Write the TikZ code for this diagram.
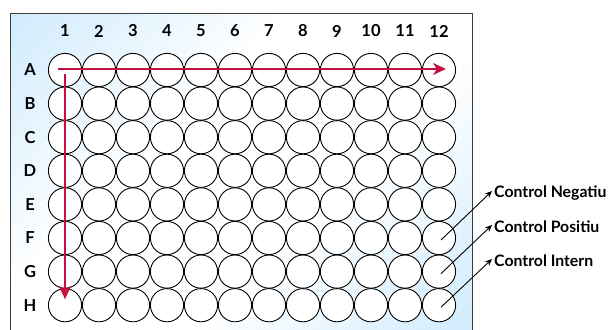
\documentclass[tikz,border=0pt]{standalone}
\usepackage{fontspec}
\setmainfont{Lato}
\usetikzlibrary{arrows.meta}
\definecolor{plateblue}{RGB}{203,233,253}
\definecolor{arrowred}{RGB}{200,16,62}
\definecolor{plateedge}{RGB}{60,60,60}
\pgfdeclarehorizontalshading{platefill}{100bp}{%
  color(0bp)=(plateblue); color(12bp)=(plateblue); color(40bp)=(white);
  color(60bp)=(white); color(88bp)=(plateblue); color(100bp)=(plateblue)}
\tikzset{
  well/.style={circle, draw=black, line width=0.9pt, fill=white, minimum size=33.2pt, inner sep=0pt},
  hdr/.style={font=\bfseries\fontsize{16.5}{16.5}\selectfont, inner sep=0pt},
  ctl/.style={font=\bfseries\fontsize{15.8}{16}\selectfont, anchor=west, inner sep=1pt},
  redarrow/.style={draw=arrowred, line width=2pt, -{Stealth[length=13pt,width=12pt,inset=4pt]}},
  ctlarrow/.style={draw=black, line width=0.9pt, -{Stealth[length=7pt,width=6pt]}}
}
\begin{document}
\begin{tikzpicture}[x=1pt,y=-1pt]
\useasboundingbox (0,0) rectangle (615,329);
\begin{scope}
\clip (0,0) rectangle (615,329);
\shade[shading=platefill, shading angle=-45] (10,14) rectangle (472,331);
\draw[plateedge, line width=1pt] (10,14) rectangle (472,331);
\end{scope}
\foreach \c in {1,...,12} {
  \node[hdr] (col-\c) at ({65+(\c-1)*34.0},31) {\c};
}
\foreach \r [count=\j] in {A,B,C,D,E,F,G,H} {
  \node[hdr] (row-\j) at (30,{70+(\j-1)*33.6}) {\r};
  \foreach \c in {1,...,12} {
    \node[well] (w-\j-\c) at ({65+(\c-1)*34.0},{70+(\j-1)*33.6}) {};
  }
}
\coordinate (hs) at ([xshift=-7pt,yshift=1pt]w-1-1.center);
\coordinate (he) at ([xshift=7pt,yshift=1pt]w-1-12.center);
\coordinate (vs) at ([yshift=-4pt]w-1-1.center);
\coordinate (ve) at ([yshift=6pt]w-8-1.center);
\draw[redarrow] (hs) -- (he);
\draw[redarrow] (vs) -- (ve);
\node[ctl] (neg) at (493,193) {Control Negatiu};
\node[ctl] (pos) at (493,227) {Control Positiu};
\node[ctl] (int) at (493,261) {Control Intern};
\draw[ctlarrow] ([xshift=2pt,yshift=-2pt]w-6-12.center) -- ([xshift=-1pt,yshift=2pt]neg.west);
\draw[ctlarrow] ([xshift=2pt,yshift=-2pt]w-7-12.center) -- ([xshift=-1pt,yshift=2pt]pos.west);
\draw[ctlarrow] ([xshift=2pt,yshift=-2pt]w-8-12.center) -- ([xshift=-1pt,yshift=2pt]int.west);
\end{tikzpicture}
\end{document}
